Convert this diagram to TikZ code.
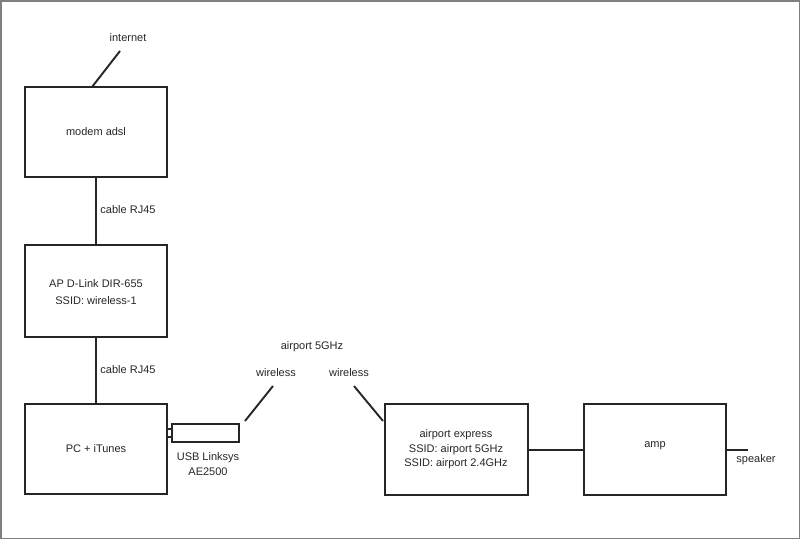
\documentclass[tikz,border=0pt]{standalone}
\usepackage{fontspec}
\setmainfont{Liberation Sans}
\begin{document}
\begin{tikzpicture}[x=1pt,y=-1pt,
  box/.style={draw=black!85,line width=1.9pt,fill=white},
  conn/.style={draw=black!85,line width=1.9pt},
  lbl/.style={font=\fontsize{11}{13}\selectfont,text=black!85,inner sep=0pt,align=center}]
\useasboundingbox (0,0) rectangle (800,539);
\draw[gray,line width=1.5pt] (0.75,0.75) rectangle (799.25,538.25);
% boxes
\path[box] (25,87) rectangle (167,177);
\path[box] (25,245) rectangle (167,337);
\path[box] (25,404) rectangle (167,494);
\path[box] (385,404) rectangle (528,495);
\path[box] (584,404) rectangle (726,495);
\path[box] (167,429) rectangle (172,437);
\path[box] (172,424) rectangle (239,442);
% named anchors
\coordinate (modemT) at (92,87);
\coordinate (net) at (120,51);
\coordinate (modemB) at (96,177);
\coordinate (apT) at (96,245);
\coordinate (apB) at (96,337);
\coordinate (pcT) at (96,404);
\coordinate (w1a) at (245,421);
\coordinate (w1b) at (273,386);
\coordinate (w2a) at (354,386);
\coordinate (w2b) at (383,421);
\coordinate (aeR) at (528,450);
\coordinate (ampL) at (584,450);
\coordinate (ampR) at (726,450);
\coordinate (spk) at (748,450);
\draw[conn] (modemT) -- (net);
\draw[conn] (modemB) -- (apT);
\draw[conn] (apB) -- (pcT);
\draw[conn] (w1a) -- (w1b);
\draw[conn] (w2a) -- (w2b);
\draw[conn] (aeR) -- (ampL);
\draw[conn] (ampR) -- (spk);
% texts
\node[lbl] (tnet) at (128,38) {internet};
\node[lbl] (tmodem) at (96,132) {modem adsl};
\node[lbl] (tc1) at (128,210) {cable RJ45};
\node[lbl] (tap) at (96,292) {AP D-Link DIR-655\\[3.5pt]SSID: wireless-1};
\node[lbl] (tc2) at (128,370) {cable RJ45};
\node[lbl] (tpc) at (96,449) {PC + iTunes};
\node[lbl] (tusb) at (208,464) {USB Linksys\\[2pt]AE2500};
\node[lbl] (tw1) at (276,373) {wireless};
\node[lbl] (tap5) at (312,347) {airport 5GHz};
\node[lbl] (tw2) at (349,373) {wireless};
\node[lbl] (tae) at (456,449) {airport express\\[1.5pt]SSID: airport 5GHz\\[1pt]SSID: airport 2.4GHz};
\node[lbl] (tamp) at (655,446) {amp};
\node[lbl] (tspk) at (756,460) {speaker};
\end{tikzpicture}
\end{document}
